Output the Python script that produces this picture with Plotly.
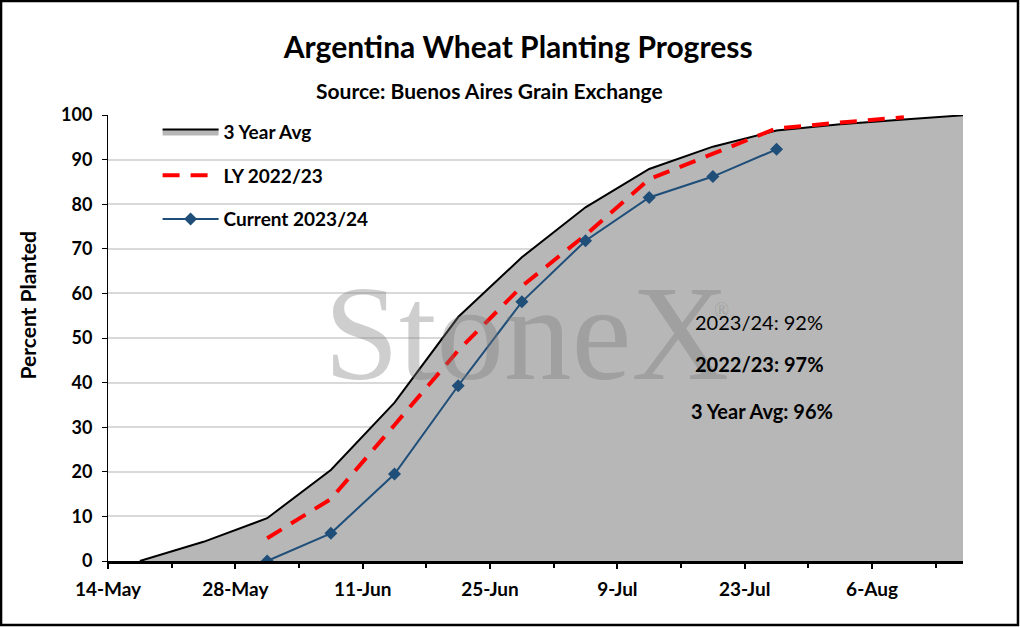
import plotly.graph_objects as go

# -------------------------------------------------
# Data (weekly readings, % of area planted)
# -------------------------------------------------
AVG_DATES = ["2023-05-17", "2023-05-24", "2023-05-31", "2023-06-07", "2023-06-14",
             "2023-06-21", "2023-06-28", "2023-07-05", "2023-07-12", "2023-07-19",
             "2023-07-26", "2023-08-02", "2023-08-09", "2023-08-16"]
AVG_3YR = [0, 4.3, 9.6, 20.4, 35.5, 54.7, 68.1, 79.3, 87.9, 92.9, 96.5, 97.9, 99.0, 100]

LY_DATES = ["2023-05-31", "2023-06-07", "2023-06-14", "2023-06-21", "2023-06-28",
            "2023-07-05", "2023-07-12", "2023-07-19", "2023-07-26", "2023-08-02",
            "2023-08-09"]
LY_2223 = [5.1, 13.9, 30.5, 47.2, 61.6, 73.1, 85.6, 91.4, 97.0, 98.3, 99.5]

CUR_DATES = ["2023-05-31", "2023-06-07", "2023-06-14", "2023-06-21", "2023-06-28",
             "2023-07-05", "2023-07-12", "2023-07-19", "2023-07-26"]
CUR_2324 = [0, 6.2, 19.5, 39.3, 58.1, 71.8, 81.5, 86.2, 92.3]

TICK_VALS = ["2023-05-13 12:00", "2023-05-27 12:00", "2023-06-10 12:00", "2023-06-24 12:00",
             "2023-07-08 12:00", "2023-07-22 12:00", "2023-08-05 12:00"]
TICK_TEXT = ["14-May", "28-May", "11-Jun", "25-Jun", "9-Jul", "23-Jul", "6-Aug"]

FONT = "Lato"

fig = go.Figure()

fig.add_trace(go.Scatter(
    x=AVG_DATES, y=AVG_3YR, name="3 Year Avg", mode="lines",
    fill="tozeroy", fillcolor="#b7b7b7",
    line=dict(color="black", width=2),
    legendgroup="a",
))
fig.add_trace(go.Scatter(
    x=LY_DATES, y=LY_2223, name="LY 2022/23", mode="lines",
    line=dict(color="#ff0000", width=4, dash="17px,11px"),
    legendgroup="b",
))
fig.add_trace(go.Scatter(
    x=CUR_DATES, y=CUR_2324, name="Current 2023/24", mode="lines+markers",
    line=dict(color="#1f4e79", width=2),
    marker=dict(symbol="diamond", size=10, color="#1f4e79"),
    legendgroup="c",
))

# watermark
WM_COLOR = "rgba(120,120,120,0.36)"
fig.add_annotation(text="StoneX", xref="paper", yref="paper", x=0.489, y=0.511,
                   showarrow=False, font=dict(family="Liberation Serif", size=135, color=WM_COLOR))
fig.add_annotation(text="®", xref="paper", yref="paper", x=0.729, y=0.563,
                   showarrow=False, font=dict(family="Liberation Serif", size=20, color=WM_COLOR))

# side notes
notes = [("2023/24: 92%", "normal", 0.684, 0.536),
         ("2022/23: 97%", "bold", 0.684, 0.442),
         ("3 Year Avg: 96%", "bold", 0.680, 0.336)]
for txt, w, nx, ny in notes:
    fig.add_annotation(text=txt, xref="paper", yref="paper", x=nx, y=ny,
                       xanchor="left", yanchor="middle", showarrow=False,
                       font=dict(family=FONT, size=20, color="black", weight=w))

fig.add_annotation(text="Source: Buenos Aires Grain Exchange", xref="paper", yref="paper",
                   x=0.446, y=1.087, showarrow=False,
                   font=dict(family=FONT, size=21, color="black", weight="bold"))

# y axis title (sits a bit above the plot centre in the original)
fig.add_annotation(text="Percent Planted", xref="paper", yref="paper", x=-0.094, y=0.572,
                   xanchor="center", yanchor="middle", textangle=-90, showarrow=False,
                   font=dict(family=FONT, size=21, color="black", weight="bold"))

# outer border of the chart
fig.add_shape(type="rect", xref="paper", yref="paper",
              x0=-0.1251, x1=1.0643, y0=-0.1435, y1=1.2556,
              line=dict(color="black", width=2.5))

fig.update_layout(
    width=1020, height=627,
    paper_bgcolor="white", plot_bgcolor="white",
    margin=dict(l=108, r=57, t=115, b=66),
    title=dict(text="Argentina Wheat Planting Progress", x=0.508, xanchor="center",
               y=1 - 47 / 627, yanchor="middle",
               font=dict(family=FONT, size=30, color="black", weight="bold")),
    font=dict(family=FONT, color="black"),
    legend=dict(x=0.058, y=1.005, xanchor="left", yanchor="top",
                bgcolor="rgba(0,0,0,0)", traceorder="grouped", tracegroupgap=16,
                font=dict(family=FONT, size=19, weight="bold"), itemwidth=56),
    xaxis=dict(
        type="date", range=["2023-05-13 12:00", "2023-08-15 12:00"],
        tickmode="array", tickvals=TICK_VALS, ticktext=TICK_TEXT,
        ticks="outside", ticklen=5, tickcolor="black", tickwidth=2,
        minor=dict(tick0="2023-05-13 12:00", dtick=7 * 86400000, ticks="outside",
                   ticklen=4, tickcolor="black", tickwidth=2),
        showline=True, linecolor="black", linewidth=2.5,
        showgrid=False, zeroline=False, ticklabelstandoff=4,
        tickfont=dict(family=FONT, size=19, weight="bold"),
    ),
    yaxis=dict(
        range=[0, 100], dtick=10, ticks="outside", ticklen=5, tickcolor="black",
        showline=True, linecolor="black", linewidth=1,
        showgrid=True, gridcolor="#d9d9d9", gridwidth=1.5, zeroline=False,
        ticklabelstandoff=6,
        tickfont=dict(family=FONT, size=18, weight="bold"),
    ),
)

fig.write_html("out.html", config={"displayModeBar": False},
               post_script="document.body.style.margin='0';")
